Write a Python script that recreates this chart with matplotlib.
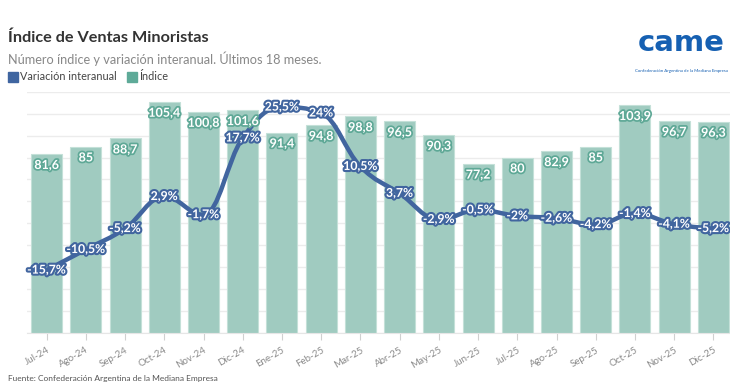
import matplotlib.pyplot as plt
import matplotlib.patheffects as pe
from matplotlib.path import Path
from matplotlib.patches import PathPatch
import numpy as np

plt.rcParams['font.family'] = ['Lato', 'DejaVu Sans']

meses = ['Jul-24', 'Ago-24', 'Sep-24', 'Oct-24', 'Nov-24', 'Dic-24', 'Ene-25', 'Feb-25', 'Mar-25',
         'Abr-25', 'May-25', 'Jun-25', 'Jul-25', 'Ago-25', 'Sep-25', 'Oct-25', 'Nov-25', 'Dic-25']
indice = [81.6, 85, 88.7, 105.4, 100.8, 101.6, 91.4, 94.8, 98.8,
          96.5, 90.3, 77.2, 80, 82.9, 85, 103.9, 96.7, 96.3]
variacion = [-15.7, -10.5, -5.2, 2.9, -1.7, 17.7, 25.5, 24, 10.5,
             3.7, -2.9, -0.5, -2, -2.6, -4.2, -1.4, -4.1, -5.2]

bar_col = '#a0cbc0'
line_col = '#41659f'
green_dark = '#5ea896'


def fmt(v):
    s = f'{v:.1f}'.rstrip('0').rstrip('.')
    return s.replace('.', ',')


def spline_path(xs, ys, smoothing=1.5):
    # bezier control points, highcharts-style spline
    n = len(xs)
    left = [(xs[i], ys[i]) for i in range(n)]
    right = [(xs[i], ys[i]) for i in range(n)]
    d = smoothing + 1
    for i in range(1, n - 1):
        px, py = xs[i], ys[i]
        lx = (smoothing * px + xs[i - 1]) / d
        ly = (smoothing * py + ys[i - 1]) / d
        rx = (smoothing * px + xs[i + 1]) / d
        ry = (smoothing * py + ys[i + 1]) / d
        if rx != lx:
            corr = (ry - ly) * (rx - px) / (rx - lx) + py - ry
            ly += corr
            ry += corr
        if ly > max(ys[i - 1], py):
            ly = max(ys[i - 1], py)
            ry = 2 * py - ly
        elif ly < min(ys[i - 1], py):
            ly = min(ys[i - 1], py)
            ry = 2 * py - ly
        if ry > max(py, ys[i + 1]):
            ry = max(py, ys[i + 1])
            ly = 2 * py - ry
        elif ry < min(py, ys[i + 1]):
            ry = min(py, ys[i + 1])
            ly = 2 * py - ry
        left[i] = (lx, ly)
        right[i] = (rx, ry)
    verts = [(xs[0], ys[0])]
    codes = [Path.MOVETO]
    for i in range(1, n):
        verts += [right[i - 1], left[i], (xs[i], ys[i])]
        codes += [Path.CURVE4] * 3
    return Path(verts, codes)


fig = plt.figure(figsize=(7.3, 3.89), dpi=100)
ax = fig.add_axes([27 / 730, 56 / 389, 706 / 730, 241.3 / 389])
x = np.arange(len(meses))

ax.bar(x, indice, width=0.79, color=bar_col, edgecolor='#c4e0d8', linewidth=0.8, zorder=2)
ax.set_xlim(-0.5, 17.5)
ax.set_ylim(0, 110)
ax.set_yticks(np.arange(0, 111, 10))
ax.yaxis.grid(True, color='#ececec', linewidth=1, zorder=0)
for s in ['top', 'right', 'left']:
    ax.spines[s].set_visible(False)
ax.spines['bottom'].set_color('#e6e6e6')
ax.set_xticks(x)
ax.set_xticklabels(meses, rotation=30, ha='right', rotation_mode='anchor',
                   fontsize=7, color='#8a8a8a')
ax.tick_params(axis='x', length=5, color='#d0d0d0', pad=4)

ax2 = ax.twinx()
ax2.set_ylim(-31.6, 29.4)
ax2.axis('off')
ax.tick_params(axis='y', left=False, right=False, labelleft=False, labelright=False)
ax2.add_patch(PathPatch(spline_path(list(x), variacion), facecolor='none', edgecolor=line_col,
                        linewidth=3.2, joinstyle='round', capstyle='round', zorder=4))

# bar labels drawn on top of the line (data labels above all series)
for xi, v in zip(x, indice):
    ax2.text(xi, v - 5, fmt(v), transform=ax.transData, ha='center', va='center',
             fontsize=9, fontweight='bold', color='white', zorder=5,
             path_effects=[pe.withStroke(linewidth=2.5, foreground=green_dark)])
for xi, v in zip(x, variacion):
    ax2.text(xi, v, fmt(v) + '%', ha='center', va='center', fontsize=8.8, fontweight='bold',
             color='white', zorder=6,
             path_effects=[pe.withStroke(linewidth=3, foreground=line_col)])

# titles and legend
fig.text(8 / 730, 1 - 38 / 389, 'Índice de Ventas Minoristas', fontsize=11.7, fontweight='bold',
         color='#333333', va='center')
fig.text(8 / 730, 1 - 59 / 389, 'Número índice y variación interanual. Últimos 18 meses.',
         fontsize=9.2, color='#888888', va='center')
fig.patches.append(plt.Rectangle((8 / 730, 1 - 82 / 389), 10 / 730, 10 / 389,
                                 transform=fig.transFigure, color='#3f65a0'))
fig.text(20 / 730, 1 - 77 / 389, 'Variación interanual', fontsize=7.8, color='#444444', va='center')
fig.patches.append(plt.Rectangle((127 / 730, 1 - 82 / 389), 10 / 730, 10 / 389,
                                 transform=fig.transFigure, color='#5eaa98'))
fig.text(139 / 730, 1 - 77 / 389, 'Índice', fontsize=7.8, color='#444444', va='center')

# logo
fig.text(681 / 730, 1 - 43 / 389, 'came', fontsize=21, fontweight='bold', color='#1660b2',
         ha='center', va='center', family='DejaVu Sans')
fig.text(681 / 730, 1 - 71 / 389, 'Confederación Argentina de la Mediana Empresa', fontsize=3.2,
         color='#1660b2', ha='center', va='center')

fig.text(8 / 730, 1 - 378 / 389, 'Fuente: Confederación Argentina de la Mediana Empresa',
         fontsize=6, color='#555555', va='center')

fig.savefig('out.png', dpi=100)
